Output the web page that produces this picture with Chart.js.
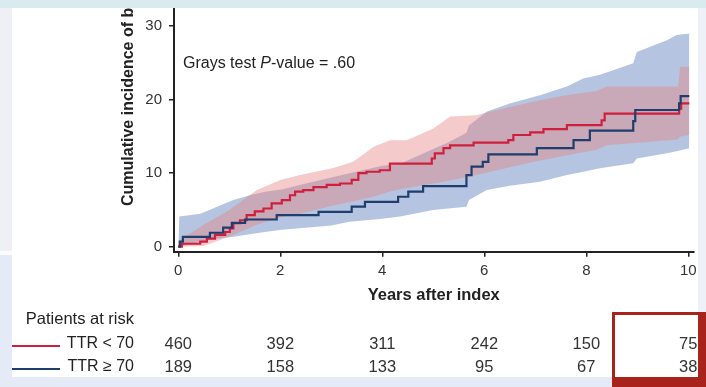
<!DOCTYPE html>
<html>
<head>
<meta charset="utf-8">
<script src="https://cdn.jsdelivr.net/npm/chart.js"></script>
<style>
body { margin:0; width:706px; height:387px; overflow:hidden; background:#e4eaf6; position:relative; }
#leftStrip { position:absolute; left:0; top:0; width:12px; height:251px; background:#eef0f6; }
#leftStrip2 { position:absolute; left:0; top:251px; width:12px; height:4px; background:#fafbfd; }
#rightStrip { position:absolute; left:698px; top:0; width:8px; height:387px; background:#eef1f8; }
#panel { position:absolute; left:12px; top:8px; width:686px; height:369px; background:#fff; }
#redBox { position:absolute; left:612px; top:312px; width:94px; height:75px; background:#a8231b; }
#redInner { position:absolute; left:615px; top:315px; width:83px; height:62px; background:#fff; }
#wrap { position:absolute; left:0; top:0; width:706px; height:387px; z-index:2; }
#topBand { position:absolute; left:0; top:0; width:706px; height:8px; background:#d9ebef; z-index:3; }
</style>
</head>
<body>
<div id="leftStrip"></div>
<div id="leftStrip2"></div>
<div id="rightStrip"></div>
<div id="panel"></div>
<div id="redBox"></div>
<div id="redInner"></div>
<div id="wrap"><canvas id="mycanvas" width="706" height="387"></canvas></div>
<div id="topBand"></div>
<script>
// axis ticks and risk table
var xTicks = [0, 2, 4, 6, 8, 10];
var yTicks = [0, 10, 20, 30];
var groups = ["TTR < 70", "TTR \u2265 70"];
var atRiskLow = [460, 392, 311, 242, 150, 75];
var atRiskHigh = [189, 158, 133, 95, 67, 38];

// TTR < 70 : cumulative incidence steps (years, %)
var lowTime = [0, 0.07, 0.43, 0.56, 0.72, 0.92, 1.01, 1.08, 1.21, 1.34, 1.5, 1.67, 1.83, 2.03, 2.19, 2.29, 2.45, 2.65, 2.91, 3.17, 3.4, 3.53, 3.69, 3.95, 4.15, 4.97, 5.03, 5.2, 5.33, 5.79, 6.47, 6.57, 6.9, 7.16, 7.62, 8.3, 8.36, 9.82, 9.86, 10.02];
var lowCif  = [0, 0.4, 0.7, 1.1, 1.6, 2.0, 2.5, 3.2, 3.6, 4.3, 4.8, 5.2, 5.9, 6.35, 7.0, 7.5, 7.7, 8.1, 8.4, 8.6, 9.1, 10.0, 10.2, 10.4, 11.3, 12.0, 12.7, 13.4, 13.8, 14.15, 14.5, 15.2, 15.55, 16.0, 16.55, 17.2, 18.1, 18.8, 19.5, 19.5];

// TTR >= 70
var highTime = [0, 0.03, 0.09, 0.62, 0.88, 1.05, 1.31, 1.93, 2.75, 3.4, 3.66, 4.31, 4.51, 4.8, 5.65, 5.75, 5.97, 6.08, 7.03, 7.75, 8.07, 8.92, 8.96, 9.82, 9.85, 10.02];
var highCif  = [0, 0.7, 1.35, 1.9, 2.6, 3.25, 3.7, 4.3, 4.75, 5.45, 6.1, 6.8, 7.5, 8.25, 9.75, 10.9, 11.55, 12.55, 13.4, 14.5, 15.8, 17.1, 18.6, 19.5, 20.5, 20.5];

// confidence bands
var lowBandTime  = [0, 0.05, 0.5, 1.0, 1.54, 2.0, 2.39, 3.04, 3.43, 3.83, 4.15, 4.48, 5.0, 5.33, 5.85, 6.0, 6.5, 7.0, 7.6, 8.2, 8.4, 9.8, 9.84, 10.02];
var lowBandLower = [0, 0, 0.1, 1.4, 3.0, 4.0, 4.5, 5.6, 6.2, 6.8, 7.5, 8.0, 8.6, 9.0, 9.8, 10.0, 10.8, 11.6, 12.4, 13.2, 13.8, 14.6, 15.0, 15.2];
var lowBandUpper = [0, 1.0, 3.0, 5.0, 7.7, 9.07, 9.75, 10.7, 11.56, 13.6, 14.5, 14.5, 16.1, 17.7, 17.9, 18.2, 19.0, 19.8, 20.6, 21.2, 21.8, 21.8, 24.5, 24.5];

var highBandTime  = [0, 0.02, 0.43, 0.68, 1.08, 1.4, 1.73, 2.03, 2.38, 3.0, 3.36, 4.0, 4.35, 5.0, 5.3, 5.65, 5.7, 6.05, 6.5, 7.09, 7.62, 7.94, 8.27, 8.92, 8.99, 9.58, 9.77, 10.02];
var highBandLower = [0, 0, 0.68, 1.0, 1.36, 1.7, 2.04, 2.3, 2.5, 2.9, 3.4, 3.8, 4.1, 5.0, 5.2, 5.44, 6.35, 7.7, 8.3, 8.84, 9.75, 10.2, 10.67, 11.35, 12.0, 12.7, 13.0, 13.4];
var highBandUpper = [0, 4.1, 4.5, 5.2, 6.35, 7.0, 7.5, 7.8, 8.4, 9.4, 10.0, 11.0, 11.3, 13.3, 14.2, 15.5, 16.5, 18.4, 19.5, 20.6, 21.8, 22.9, 23.4, 24.95, 26.5, 28.1, 28.8, 29.0];

var redColor = "#cf1f3c";
var blueColor = "#1f3d6d";
var fontName = '"Liberation Sans", Arial, sans-serif';

function pts(xs, ys) {
  var out = [];
  for (var i = 0; i < xs.length; i++) {
    out.push({ x: xs[i], y: ys[i] });
  }
  return out;
}

var extras = {
  id: 'extras',
  afterDraw: function(chart) {
    var ctx = chart.ctx;
    var xs = chart.scales.x;
    ctx.save();
    ctx.fillStyle = "#222";

    // y title
    ctx.save();
    ctx.translate(129, 206);
    ctx.rotate(-Math.PI / 2);
    ctx.font = 'bold 16px ' + fontName;
    ctx.textAlign = 'left';
    ctx.textBaseline = 'middle';
    ctx.fillText("Cumulative incidence of bleeding (%)", 0, 0);
    ctx.restore();

    // x title
    ctx.font = 'bold 16.5px ' + fontName;
    ctx.textAlign = 'center';
    ctx.textBaseline = 'middle';
    ctx.fillText("Years after index", (chart.chartArea.left + chart.chartArea.right) / 2, 295);

    // Grays test text
    ctx.textAlign = 'left';
    ctx.textBaseline = 'alphabetic';
    var tx = 183, ty = 68;
    ctx.font = '16px ' + fontName;
    ctx.fillText("Grays test ", tx, ty);
    tx += ctx.measureText("Grays test ").width;
    ctx.font = 'italic 16px ' + fontName;
    ctx.fillText("P", tx, ty);
    tx += ctx.measureText("P").width;
    ctx.font = '16px ' + fontName;
    ctx.fillText("-value = .60", tx, ty);

    // patients at risk table
    ctx.textBaseline = 'middle';
    ctx.textAlign = 'right';
    ctx.font = '16.5px ' + fontName;
    ctx.fillText("Patients at risk", 134, 319);
    ctx.font = '16px ' + fontName;
    ctx.fillText(groups[0], 134, 344);
    ctx.fillText(groups[1], 134, 367);

    ctx.lineWidth = 2;
    ctx.strokeStyle = redColor;
    ctx.beginPath(); ctx.moveTo(12, 346); ctx.lineTo(60, 346); ctx.stroke();
    ctx.strokeStyle = blueColor;
    ctx.beginPath(); ctx.moveTo(12, 369); ctx.lineTo(60, 369); ctx.stroke();

    ctx.fillStyle = "#333";
    ctx.font = '16.5px ' + fontName;
    ctx.textAlign = 'center';
    for (var i = 0; i < xTicks.length; i++) {
      var px = xs.getPixelForValue(xTicks[i]);
      ctx.fillText(String(atRiskLow[i]), px, 344);
      ctx.fillText(String(atRiskHigh[i]), px, 367);
    }
    ctx.restore();
  }
};

var bandStyle = { pointRadius: 0, pointHitRadius: 0, borderWidth: 0, borderColor: 'rgba(0,0,0,0)', tension: 0 };

var chartdata = {
  datasets: [
    { label: groups[1], data: pts(highTime, highCif), stepped: 'before', borderColor: blueColor, borderWidth: 2.2, pointRadius: 0, fill: false },
    { label: groups[0], data: pts(lowTime, lowCif), stepped: 'before', borderColor: redColor, borderWidth: 2.2, pointRadius: 0, fill: false },
    Object.assign({ label: 'low upper', data: pts(lowBandTime, lowBandUpper), fill: '+1', backgroundColor: 'rgba(228,128,128,0.42)' }, bandStyle),
    Object.assign({ label: 'low lower', data: pts(lowBandTime, lowBandLower), fill: false }, bandStyle),
    Object.assign({ label: 'high upper', data: pts(highBandTime, highBandUpper), fill: '+1', backgroundColor: 'rgba(70,110,180,0.4)' }, bandStyle),
    Object.assign({ label: 'high lower', data: pts(highBandTime, highBandLower), fill: false }, bandStyle)
  ]
};

var ctx = document.getElementById("mycanvas");
var chart = new Chart(ctx, {
  type: 'line',
  data: chartdata,
  plugins: [extras],
  options: {
    responsive: false,
    devicePixelRatio: 1,
    animation: false,
    layout: { padding: { top: 8, right: 12.6, bottom: 0, left: 0 } },
    plugins: { legend: { display: false }, tooltip: { enabled: false } },
    scales: {
      x: {
        type: 'linear',
        min: -0.084,
        max: 10.1,
        border: { display: true, color: '#222', width: 2 },
        grid: { drawOnChartArea: false, drawTicks: true, tickLength: 5, color: '#222', lineWidth: 1.5 },
        ticks: { color: '#333', font: { family: fontName, size: 15 }, padding: 5, maxRotation: 0 },
        afterBuildTicks: function(s) { s.ticks = xTicks.map(function(v) { return { value: v }; }); },
        afterFit: function(s) { s.height = 135.3; s.paddingLeft = 0; s.paddingRight = 0; }
      },
      y: {
        type: 'linear',
        min: -0.68,
        max: 32.48,
        border: { display: true, color: '#222', width: 2 },
        grid: { drawOnChartArea: false, drawTicks: true, tickLength: 5, color: '#222', lineWidth: 1.5 },
        ticks: { color: '#333', font: { family: fontName, size: 15 }, padding: 7 },
        afterBuildTicks: function(s) { s.ticks = yTicks.map(function(v) { return { value: v }; }); },
        afterFit: function(s) { s.width = 174; s.paddingTop = 0; s.paddingBottom = 0; }
      }
    }
  }
});
</script>
</body>
</html>
